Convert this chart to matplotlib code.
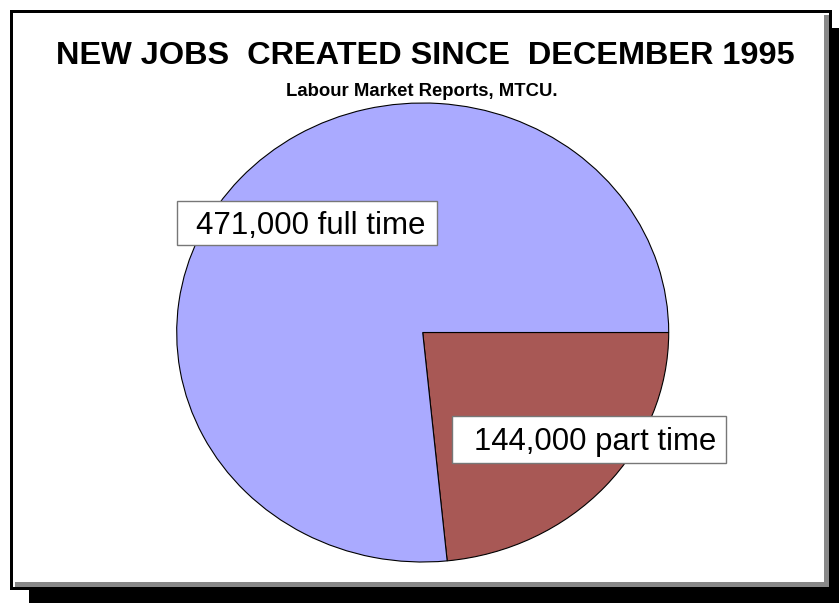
import matplotlib
matplotlib.use('Agg')
import matplotlib.pyplot as plt
from matplotlib.patches import Rectangle

# data
labels = ['144,000 part time', '471,000 full time']
jobs = [144000, 471000]
colors = ['#A85855', '#AAAAFF']

title = 'NEW JOBS  CREATED SINCE  DECEMBER 1995'
subtitle = 'Labour Market Reports, MTCU.'

W, H = 839, 603
plt.rcParams['font.family'] = ['Liberation Sans', 'DejaVu Sans']
fig = plt.figure(figsize=(W / 100, H / 100), dpi=100)


def pixel_axes(z):
    ax = fig.add_axes([0, 0, 1, 1], zorder=z)
    ax.set_xlim(0, W)
    ax.set_ylim(H, 0)
    ax.axis('off')
    ax.patch.set_alpha(0)
    return ax


def box(ax, x0, y0, x1, y1, **kw):
    ax.add_patch(Rectangle((x0, y0), x1 - x0, y1 - y0, **kw))


bg = pixel_axes(0)
# shadow + frame
box(bg, 29, 28, 839, 603, color='black', lw=0)
box(bg, 10, 10, 832, 590, color='black', lw=0)
box(bg, 13, 13, 829, 587, color='white', lw=0)
box(bg, 824, 15, 829, 587, color='#888888', lw=0)
box(bg, 15, 582, 829, 587, color='#888888', lw=0)

bg.text(425, 56, title, ha='center', va='center', fontsize=23.4,
        fontweight='bold')
bg.text(421.5, 91.5, subtitle, ha='center', va='center', fontsize=13.3,
        fontweight='bold')

# pie (stretched into an ellipse)
left, right, top, bottom = 176.7, 668.7, 103, 562
pie_ax = fig.add_axes([left / W, 1 - bottom / H, (right - left) / W,
                       (bottom - top) / H], zorder=1)
pie_ax.pie(jobs, colors=colors, startangle=0, counterclock=False,
           wedgeprops=dict(edgecolor='black', linewidth=0.8))
pie_ax.set_aspect('auto')
pie_ax.set_xlim(-1, 1)
pie_ax.set_ylim(-1, 1)
pie_ax.axis('off')

# label boxes
fg = pixel_axes(2)
box(fg, 177, 201, 437, 245, facecolor='white', edgecolor='#777777', lw=1)
fg.text(196, 226, labels[1], ha='left', va='center', fontsize=22.5)
box(fg, 452, 416, 726, 463, facecolor='white', edgecolor='#777777', lw=1)
fg.text(474, 442, labels[0], ha='left', va='center', fontsize=22.4)

fig.savefig('out.png', dpi=100)
